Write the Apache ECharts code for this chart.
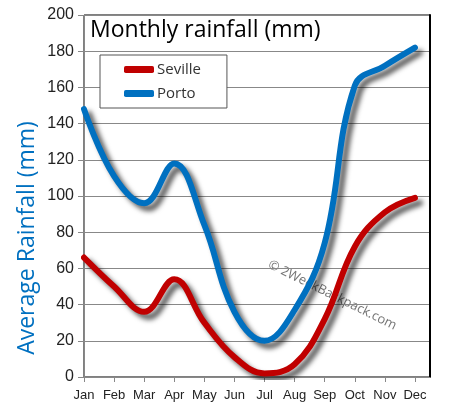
<!DOCTYPE html>
<html>
<head>
<meta charset="utf-8">
<script src="https://cdn.jsdelivr.net/npm/echarts@6/dist/echarts.min.js"></script>
<style>html,body{margin:0;padding:0;background:#fff;}#chart{width:451px;height:418px;}</style>
</head>
<body>
<div id="chart"></div>
<script>
var months = ['Jan','Feb','Mar','Apr','May','Jun','Jul','Aug','Sep','Oct','Nov','Dec'];
var seville = [66, 50, 36, 54, 30, 11, 2, 7, 32, 72, 91, 99];
var porto = [148, 111, 96, 118, 84, 36, 20, 37, 74, 161, 172, 182];
var yTicks = [0, 20, 40, 60, 80, 100, 120, 140, 160, 180, 200];

function pairs(arr){ return arr.map(function(v,i){ return [i, v]; }); }
var monthIdx = months.map(function(m,i){ return i; });

var chart = echarts.init(document.getElementById('chart'));
var shadow = {shadowColor:'rgba(0,0,0,0.65)', shadowBlur:5, shadowOffsetX:5, shadowOffsetY:5};
chart.setOption({
  animation:false,
  backgroundColor:'#fff',
  title:{text:'Monthly rainfall (mm)', left:85, top:14, textStyle:{fontFamily:'Open Sans', fontWeight:'normal', fontSize:23, color:'#000'}},
  legend:{
    left:100, top:55, orient:'vertical', itemWidth:30, itemHeight:7, itemGap:9, icon:'roundRect',
    borderColor:'#555', borderWidth:1, backgroundColor:'#fff', padding:[7,26,7,24],
    textStyle:{fontFamily:'Open Sans', fontSize:15, color:'#333', padding:[0,0,0,-2]},
    data:['Seville','Porto']
  },
  grid:{left:84, right:21, top:15, bottom:41, show:true, borderColor:'#000', borderWidth:1},
  xAxis:{
    type:'value', min:0, max:11.5, interval:1,
    axisLine:{lineStyle:{color:'#888', width:1}},
    axisTick:{show:true, length:5, lineStyle:{color:'#888'}, customValues:monthIdx},
    splitLine:{show:false},
    axisLabel:{margin:12, fontFamily:'Liberation Sans', fontSize:13, color:'#222', customValues:monthIdx,
      formatter:function(v){ return Number.isInteger(v) ? months[v] : ''; }}
  },
  yAxis:[{
    type:'value', min:0, max:200, interval:20,
    axisLine:{show:true, lineStyle:{color:'#888'}},
    axisTick:{show:true, length:6, lineStyle:{color:'#888'}},
    splitLine:{lineStyle:{color:'#888', width:1}},
    axisLabel:{margin:10, fontFamily:'Liberation Sans', fontSize:16, color:'#222',
      formatter:function(v){ return yTicks.indexOf(v) >= 0 ? String(v) : ''; }}
  },{
    type:'value', min:0, max:200, position:'right',
    axisLine:{show:true, lineStyle:{color:'#000', width:2}},
    axisTick:{show:false}, axisLabel:{show:false}, splitLine:{show:false}
  }],
  graphic:[{
    type:'text', x:27, y:238, rotation:Math.PI/2,
    style:{text:'Average Rainfall (mm)', fontFamily:'Open Sans', fontSize:23, fill:'#0070C0', align:'center', verticalAlign:'middle'}
  },{
    type:'text', left:266, top:258, rotation:-0.46,
    style:{text:'\u00a9 2WeekBackpack.com', fontFamily:'Open Sans', fontSize:13, fill:'rgba(90,90,90,0.85)'}
  }],
  series:[
    {name:'Seville', type:'line', smooth:0.4, showSymbol:false, symbol:'none', data:pairs(seville),
     itemStyle:{color:'#C00000'},
     lineStyle:Object.assign({color:'#C00000', width:6, cap:'round', join:'round'}, shadow)},
    {name:'Porto', type:'line', smooth:0.4, showSymbol:false, symbol:'none', data:pairs(porto),
     itemStyle:{color:'#0070C0'},
     lineStyle:Object.assign({color:'#0070C0', width:6, cap:'round', join:'round'}, shadow)}
  ]
});
</script>
</body>
</html>
